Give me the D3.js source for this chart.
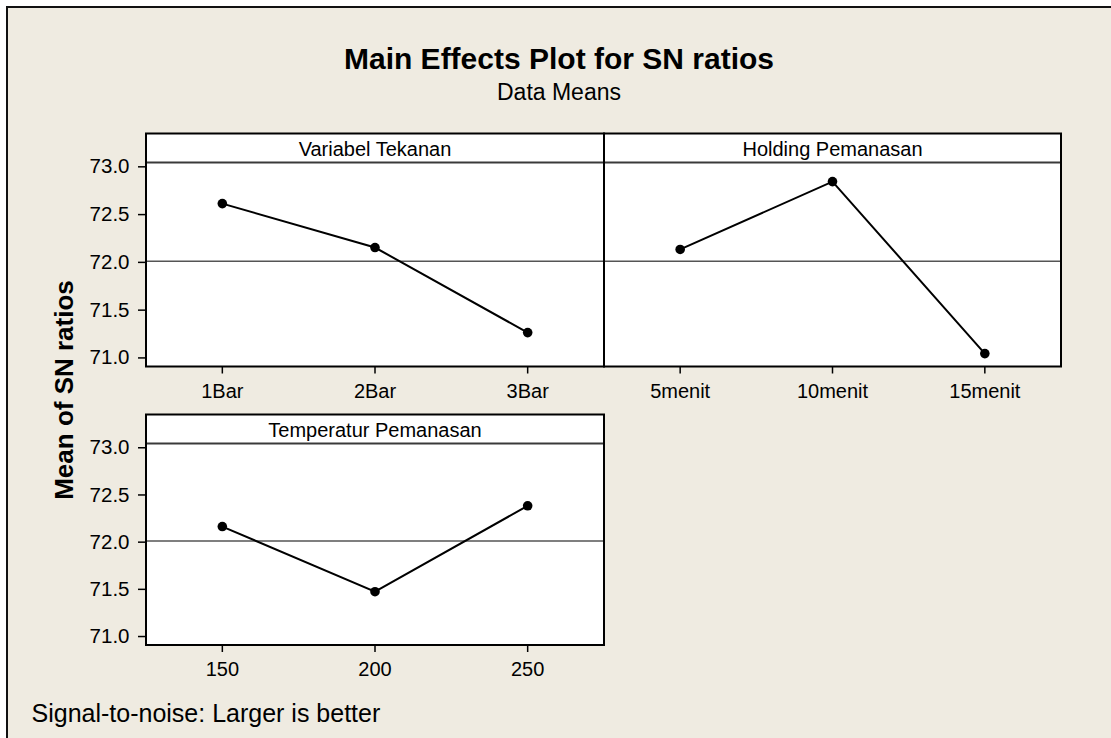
<!DOCTYPE html>
<html>
<head>
<meta charset="utf-8">
<script src="https://cdn.jsdelivr.net/npm/d3@7"></script>
<style>
  body { margin: 0; background: #fff; }
  text { font-family: "Liberation Sans", Arial, sans-serif; fill: #000; }
</style>
</head>
<body>
<svg id="chart" width="1111" height="738"></svg>
<script>
// main effects (mean of SN ratios) per factor level
var tekananLevels = ["1Bar", "2Bar", "3Bar"];
var tekananMeans = [72.61, 72.15, 71.26];
var holdingLevels = ["5menit", "10menit", "15menit"];
var holdingMeans = [72.13, 72.84, 71.04];
var temperaturLevels = ["150", "200", "250"];
var temperaturMeans = [72.16, 71.47, 72.38];
var yTicks = [71.0, 71.5, 72.0, 72.5, 73.0];
var yDomain = [70.905, 73.04];

var panels = [
  {name: "Variabel Tekanan", levels: tekananLevels, means: tekananMeans, col: 0, row: 0},
  {name: "Holding Pemanasan", levels: holdingLevels, means: holdingMeans, col: 1, row: 0},
  {name: "Temperatur Pemanasan", levels: temperaturLevels, means: temperaturMeans, col: 0, row: 1}
];

// grand mean = reference line
var grandMean = d3.mean(tekananMeans);

var cols = [{x0: 146, x1: 604}, {x0: 604, x1: 1061}];
var rows = [{top: 133.5, plotTop: 162.5, bottom: 366.5},
            {top: 414.5, plotTop: 443.5, bottom: 645}];

var svg = d3.select("#chart");

// outer frame (right/bottom edges fall outside the picture)
svg.append("rect")
  .attr("x", 7).attr("y", 7)
  .attr("width", 1300).attr("height", 900)
  .attr("fill", "#efebe1")
  .attr("stroke", "#111")
  .attr("stroke-width", 2);

// titles
svg.append("text")
  .attr("x", 559).attr("y", 69)
  .attr("text-anchor", "middle")
  .style("font-size", "30px").style("font-weight", "bold")
  .text("Main Effects Plot for SN ratios");
svg.append("text")
  .attr("x", 559).attr("y", 100)
  .attr("text-anchor", "middle")
  .style("font-size", "23px")
  .text("Data Means");

// y axis label
svg.append("text")
  .attr("transform", "translate(72.5,390) rotate(-90)")
  .attr("text-anchor", "middle")
  .style("font-size", "26px").style("font-weight", "bold")
  .text("Mean of SN ratios");

// footer
svg.append("text")
  .attr("x", 31.5).attr("y", 721.5)
  .style("font-size", "25px")
  .text("Signal-to-noise: Larger is better");

panels.forEach(function(p) {
  var c = cols[p.col], r = rows[p.row];

  var x = d3.scaleBand()
    .domain(p.levels)
    .range([c.x0, c.x1]);
  var y = d3.scaleLinear()
    .domain(yDomain)
    .range([r.bottom, r.plotTop]);

  var g = svg.append("g");

  // panel background
  g.append("rect")
    .attr("x", c.x0).attr("y", r.top)
    .attr("width", c.x1 - c.x0).attr("height", r.bottom - r.top)
    .attr("fill", "#fff");

  // reference line at grand mean
  g.append("line")
    .attr("x1", c.x0).attr("x2", c.x1)
    .attr("y1", y(grandMean)).attr("y2", y(grandMean))
    .attr("stroke", "#555").attr("stroke-width", 1.6);

  // strip
  g.append("line")
    .attr("x1", c.x0).attr("x2", c.x1)
    .attr("y1", r.plotTop).attr("y2", r.plotTop)
    .attr("stroke", "#3a3a3a").attr("stroke-width", 1.8);
  g.append("text")
    .attr("x", (c.x0 + c.x1) / 2).attr("y", r.top + 22.5)
    .attr("text-anchor", "middle")
    .style("font-size", "20px")
    .text(p.name);

  // effect line + points
  var pts = p.levels.map(function(l, i) { return {level: l, value: p.means[i]}; });
  var line = d3.line()
    .x(function(d) { return x(d.level) + x.bandwidth() / 2; })
    .y(function(d) { return y(d.value); });
  g.append("path")
    .datum(pts)
    .attr("d", line)
    .attr("fill", "none")
    .attr("stroke", "#000")
    .attr("stroke-width", 2);
  g.selectAll(".pt")
    .data(pts)
    .enter().append("circle")
    .attr("class", "pt")
    .attr("cx", function(d) { return x(d.level) + x.bandwidth() / 2; })
    .attr("cy", function(d) { return y(d.value); })
    .attr("r", 4.8)
    .attr("fill", "#000");

  // panel border
  g.append("rect")
    .attr("x", c.x0).attr("y", r.top)
    .attr("width", c.x1 - c.x0).attr("height", r.bottom - r.top)
    .attr("fill", "none")
    .attr("stroke", "#000").attr("stroke-width", 2);

  // x axis
  var xa = g.append("g")
    .attr("transform", "translate(0," + r.bottom + ")")
    .call(d3.axisBottom(x).tickSize(7).tickPadding(10).tickSizeOuter(0));
  xa.select(".domain").remove();
  xa.selectAll("line").attr("stroke", "#000").attr("stroke-width", 1.5);
  xa.selectAll("text").style("font-size", "20px").attr("fill", "#000");

  // y axis only on the left column
  if (p.col === 0) {
    var ya = g.append("g")
      .attr("transform", "translate(" + c.x0 + ",0)")
      .call(d3.axisLeft(y).tickValues(yTicks).tickFormat(d3.format(".1f"))
        .tickSize(8).tickPadding(8.5).tickSizeOuter(0));
    ya.select(".domain").remove();
    ya.selectAll("line").attr("stroke", "#000").attr("stroke-width", 1.5);
    ya.selectAll("text").style("font-size", "20.5px").attr("fill", "#000");
  }
});
</script>
</body>
</html>
